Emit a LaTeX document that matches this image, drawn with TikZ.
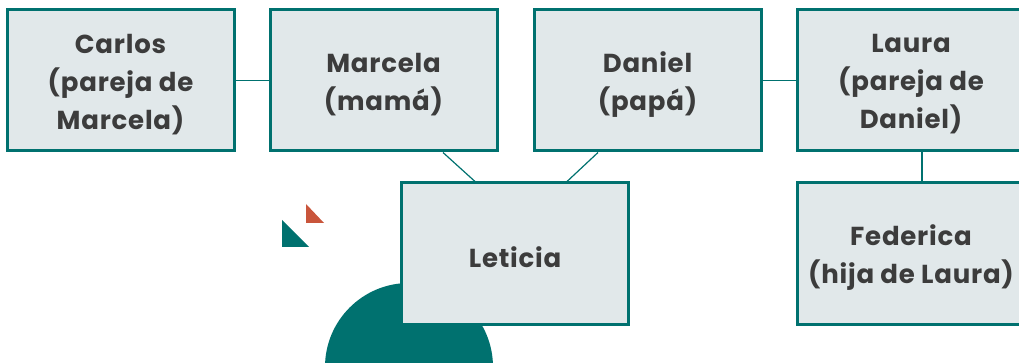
\documentclass[tikz,border=0pt]{standalone}
\usepackage{fontspec}
\setmainfont{Poppins}[LetterSpace=3]
\definecolor{teal1}{HTML}{00716F}
\definecolor{boxfill}{HTML}{E1E8EA}
\definecolor{txt}{HTML}{3C3C3C}
\definecolor{orng}{HTML}{C9553B}
\begin{document}
\begin{tikzpicture}[x=1pt,y=-1pt,
  person/.style={draw=teal1,line width=3pt,fill=boxfill,minimum width=227pt,minimum height=141pt,
    inner sep=0pt},
  pname/.style={align=center,text=txt,yshift=-4pt,inner sep=0pt,font=\fontsize{26}{38}\selectfont\bfseries},
  link/.style={draw=teal1,line width=1.2pt}]
\useasboundingbox (0,0) rectangle (1019,363);
\fill[teal1] (409,367) circle[radius=84];
\fill[teal1] (282,220) -- (282,247) -- (309,247) -- cycle;
\fill[orng] (306,204) -- (306,223) -- (324,223) -- cycle;
\node[person,label={[pname]center:{Carlos\\(pareja de\\Marcela)}}] (carlos) at (120.5,80.5) {};
\node[person,label={[pname]center:{Marcela\\(mamá)}}] (marcela) at (383.5,80.5) {};
\node[person,label={[pname]center:{Daniel\\(papá)}}] (daniel) at (647.5,80.5) {};
\node[person,label={[pname]center:{Laura\\(pareja de\\Daniel)}}] (laura) at (911,80.5) {};
\node[person,label={[pname]center:{Leticia}}] (leticia) at (515,253.5) {};
\node[person,label={[pname]center:{Federica\\(hija de Laura)}}] (federica) at (911,253.5) {};
\draw[link] (carlos.east) -- (marcela.west);
\draw[link] (daniel.east) -- (laura.west);
\draw[link] ([xshift=59.5pt]marcela.south) -- ([xshift=-40pt]leticia.north);
\draw[link] ([xshift=-49.5pt]daniel.south) -- ([xshift=52pt]leticia.north);
\draw[link] ([xshift=11pt]laura.south) -- ([xshift=11pt]federica.north);
\end{tikzpicture}
\end{document}
